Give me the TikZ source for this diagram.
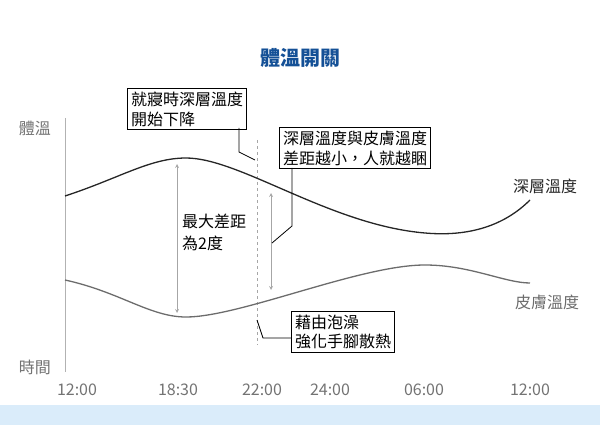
\documentclass[tikz,border=0pt]{standalone}
\usepackage{fontspec}
\setmainfont{Noto Sans CJK TC}
\definecolor{band}{RGB}{218,236,250}
\begin{document}
\begin{tikzpicture}[x=1pt,y=-1pt,
 lbl/.style={font=\fontsize{16}{19}\selectfont,inner sep=0pt},
 callout/.style={draw=black,fill=white,line width=1pt,align=left,inner sep=3.5pt,font=\fontsize{16}{19.5}\selectfont,anchor=north west},
 gap/.style={gray!70,line width=0.8pt,<->,>=stealth}]
\useasboundingbox (0,0) rectangle (600,425);
\fill[band] (0,405) rectangle (600,425);
\node[font=\bfseries\fontsize{20}{22}\selectfont,text={rgb,255:red,20;green,80;blue,150}] (title) at (300,58) {體溫開關};
\draw[gray!60,line width=0.8pt] (65,118) -- (65,372);
\node[lbl,text=gray!90!black] (yl) at (35,128) {體溫};
\node[lbl,text=gray!90!black] (xl) at (35,367) {時間};
\foreach \x/\t in {77/12:00,178/18:30,262/22:00,330/24:00,424/06:00,530/12:00}
  \node[lbl,text=gray!90!black] at (\x,390) {\t};
\draw[gray!70,dashed,line width=0.8pt] (257,140) -- (257,345);
\draw[black!85,line width=1.3pt] (65,196) .. controls (120,178) and (150,158) .. (186,158) .. controls (240,158) and (330,225) .. (425,233) .. controls (470,237) and (505,225) .. (530,200);
\draw[gray!85!black,line width=1.3pt] (65,280) .. controls (120,292) and (150,317) .. (186,317) .. controls (240,317) and (360,265) .. (425,265) .. controls (470,265) and (505,283) .. (530,283);
\draw[gap] (177,164) -- (177,313);
\draw[gap] (271,193) -- (271,290);
\node[lbl,align=left,anchor=north west,font=\fontsize{16}{22}\selectfont] (gapt) at (182,214) {最大差距\\為2度};
\node[callout] (b1) at (127,88) {就寢時深層溫度\\開始下降};
\node[callout] (b2) at (279,127) {深層溫度與皮膚溫度\\差距越小，人就越睏};
\node[callout] (b3) at (291,311) {藉由泡澡\\強化手腳散熱};
\coordinate (p1) at (255,160);
\coordinate (p2) at (272,243);
\coordinate (p3) at (257,320);
\draw[black,line width=0.8pt] (239,128) -- (239,152) -- (p1);
\draw[black,line width=0.8pt] (292,168) -- (292,226) -- (p2);
\draw[black,line width=0.8pt] (p3) -- (263,338) -- (b3.west |- 0,338);
\node[lbl,anchor=west,text=black!85] (dl) at (513,186) {深層溫度};
\node[lbl,anchor=west,text=gray!85!black] (sl) at (515,302) {皮膚溫度};
\end{tikzpicture}
\end{document}
